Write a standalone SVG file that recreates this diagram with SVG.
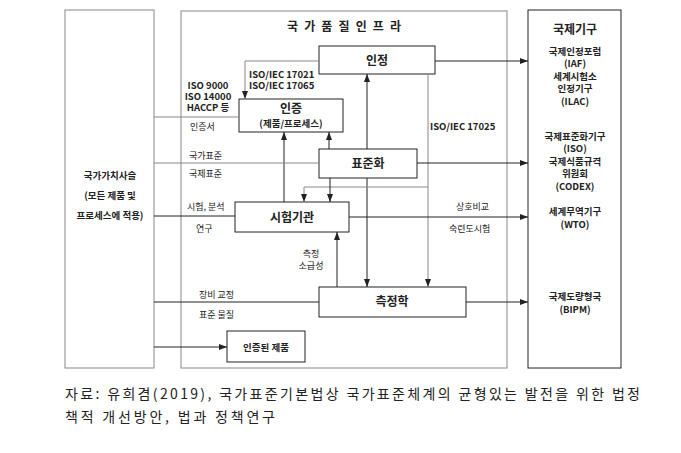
<svg xmlns="http://www.w3.org/2000/svg" width="681" height="453" viewBox="0 0 681 453">
<style>
text{font-family:"Noto Sans CJK KR","Liberation Sans",sans-serif;fill:#222}
.s{font-size:9px}
.m{font-size:9.5px;font-weight:bold}
.b{font-size:12px;font-weight:bold}
.c{text-anchor:middle}
rect{fill:#fff;stroke:#222;stroke-width:1}
.fr{stroke:#888}
#conn line,#conn polyline{stroke:#222;stroke-width:1;fill:none}
#conn .g{stroke:#888}
</style>
<defs><marker id="a" markerWidth="8" markerHeight="6" refX="8" refY="3" orient="auto" markerUnits="userSpaceOnUse"><path d="M0,0L8,3L0,6z" fill="#222"/></marker></defs>
<rect width="681" height="453" style="fill:#fff;stroke:none"/>
<g id="left"><rect class="fr" x="65" y="10" width="89" height="358"/>
<text class="m c" x="110" y="179">국가가치사슬</text><text class="m c" x="110" y="199">(모든 제품 및</text><text class="m c" x="110" y="219">프로세스에 적용)</text></g>
<g id="nqi"><rect class="fr" x="181" y="11" width="326" height="357"/><text class="b" x="287" y="31" font-size="15" textLength="114">국가품질인프라</text></g>
<g id="intl"><rect x="528" y="10" width="93" height="358"/>
<text class="b c" x="575" y="34" font-size="11">국제기구</text>
<text class="m c" x="575" y="55">국제인정포럼</text><text class="m c" x="575" y="67">(IAF)</text><text class="m c" x="575" y="80">세계시험소</text><text class="m c" x="575" y="92">인정기구</text><text class="m c" x="575" y="105">(ILAC)</text>
<text class="m c" x="575" y="140">국제표준화기구</text><text class="m c" x="575" y="152">(ISO)</text><text class="m c" x="575" y="165">국제식품규격</text><text class="m c" x="575" y="177">위원회</text><text class="m c" x="575" y="190">(CODEX)</text>
<text class="m c" x="575" y="215">세계무역기구</text><text class="m c" x="575" y="228">(WTO)</text>
<text class="m c" x="575" y="300">국제도량형국</text><text class="m c" x="575" y="313">(BIPM)</text></g>
<g id="n1"><rect x="319" y="46" width="116" height="28"/><text class="b c" x="377" y="65">인정</text></g>
<g id="n2"><rect x="239" y="99" width="104" height="33"/><text class="b c" x="291" y="113" font-size="11">인증</text><text class="m c" x="291" y="127">(제품/프로세스)</text></g>
<g id="n3"><rect x="319" y="149" width="98" height="29"/><text class="b c" x="368" y="168">표준화</text></g>
<g id="n4"><rect x="235" y="202" width="114" height="30"/><text class="b c" x="292" y="222">시험기관</text></g>
<g id="n5"><rect x="319" y="287" width="147" height="30"/><text class="b c" x="392" y="306">측정학</text></g>
<g id="n6"><rect x="227" y="331" width="78" height="31"/><text class="m c" x="266" y="351">인증된 제품</text></g>
<g id="conn">
<line x1="435" y1="61" x2="528" y2="61" marker-end="url(#a)"/>
<polyline class="g" points="319,61 245,61 245,99" marker-end="url(#a)"/>
<line x1="367" y1="149" x2="367" y2="74" marker-end="url(#a)"/>
<line class="g" x1="428" y1="74" x2="428" y2="287" marker-end="url(#a)"/>
<line x1="329" y1="149" x2="329" y2="132" marker-end="url(#a)"/>
<line x1="284" y1="202" x2="284" y2="132" marker-end="url(#a)"/>
<line x1="417" y1="163" x2="528" y2="163" marker-end="url(#a)"/>
<line class="g" x1="154" y1="163" x2="319" y2="163"/>
<line class="g" x1="154" y1="117" x2="239" y2="117"/>
<line x1="367" y1="178" x2="367" y2="287" marker-end="url(#a)"/>
<polyline class="g" points="428,187 304,187 304,202" marker-end="url(#a)"/>
<line x1="330" y1="178" x2="330" y2="202" marker-end="url(#a)"/>
<line x1="154" y1="216" x2="235" y2="216"/>
<line x1="349" y1="217" x2="528" y2="217" marker-end="url(#a)"/>
<line x1="337" y1="287" x2="337" y2="232" marker-end="url(#a)"/>
<line x1="154" y1="302" x2="319" y2="302"/>
<line x1="466" y1="302" x2="528" y2="302" marker-end="url(#a)"/>
<line x1="154" y1="347" x2="227" y2="347" marker-end="url(#a)"/>
</g>
<g id="labels">
<text class="m c" x="208" y="89" font-size="8.5">ISO 9000</text><text class="m c" x="208" y="100" font-size="8.5">ISO 14000</text><text class="m c" x="208" y="111" font-size="8.5">HACCP 등</text>
<text class="s" x="190" y="130">인증서</text>
<text class="m" x="249" y="78" font-size="8.5">ISO/IEC 17021</text><text class="m" x="249" y="89" font-size="8.5">ISO/IEC 17065</text>
<text class="m" x="430" y="130" font-size="8.5">ISO/IEC 17025</text>
<text class="s" x="189" y="159">국가표준</text><text class="s" x="189" y="177">국제표준</text>
<text class="s" x="187" y="210">시험, 분석</text><text class="s" x="196" y="232">연구</text>
<text class="s" x="456" y="210">상호비교</text><text class="s" x="449" y="232">숙련도시험</text>
<text class="s c" x="311" y="257">측정</text><text class="s c" x="311" y="269">소급성</text>
<text class="s" x="199" y="298">장비 교정</text><text class="s" x="199" y="318">표준 물질</text>
</g>
<text x="65" y="399" font-size="14" textLength="575">자료: 유희겸(2019), 국가표준기본법상 국가표준체계의 균형있는 발전을 위한 법정</text>
<text x="65" y="422" font-size="14" textLength="210">책적 개선방안, 법과 정책연구</text>
</svg>
